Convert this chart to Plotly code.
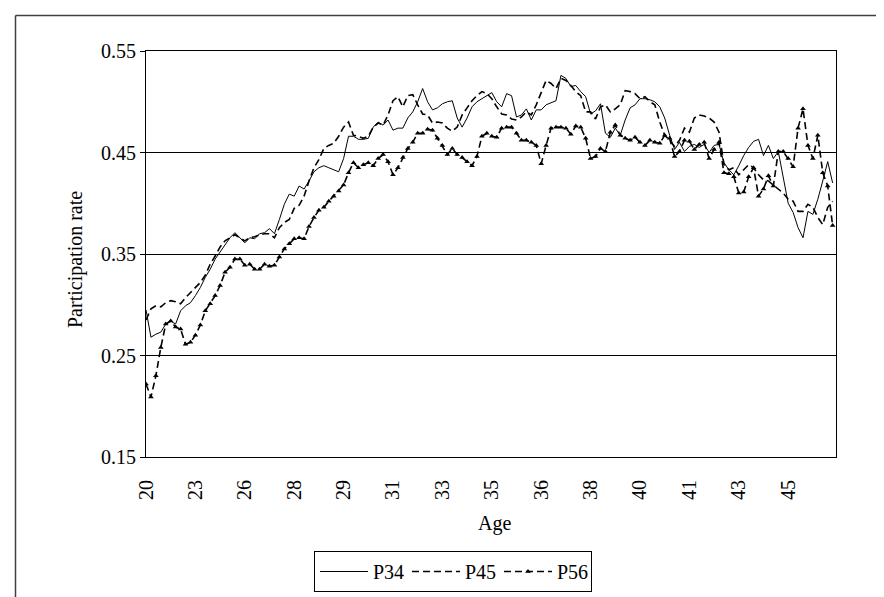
import plotly.graph_objects as go

age_labels = ["20", "23", "26", "28", "29", "31", "33", "35", "36", "38", "40", "41", "43", "45"]

p34 = [0.295, 0.268, 0.271, 0.273, 0.281, 0.284, 0.281, 0.294, 0.299, 0.302,
       0.309, 0.317, 0.327, 0.335, 0.345, 0.352, 0.360, 0.366, 0.371, 0.366,
       0.361, 0.366, 0.365, 0.370, 0.371, 0.375, 0.370, 0.384, 0.399, 0.409,
       0.407, 0.417, 0.414, 0.422, 0.431, 0.435, 0.437, 0.435, 0.433, 0.431,
       0.444, 0.466, 0.466, 0.463, 0.463, 0.464, 0.475, 0.480, 0.477, 0.482,
       0.472, 0.474, 0.474, 0.484, 0.490, 0.500, 0.513, 0.500, 0.492, 0.494,
       0.498, 0.500, 0.501, 0.484, 0.475, 0.484, 0.495, 0.500, 0.503, 0.506,
       0.509, 0.500, 0.495, 0.508, 0.506, 0.485, 0.487, 0.493, 0.482, 0.492,
       0.492, 0.497, 0.499, 0.501, 0.526, 0.523, 0.515, 0.516, 0.510, 0.505,
       0.488, 0.491, 0.498, 0.469, 0.465, 0.474, 0.467, 0.482, 0.494, 0.497,
       0.503, 0.503, 0.502, 0.500, 0.495, 0.484, 0.467, 0.453, 0.460, 0.451,
       0.456, 0.458, 0.455, 0.458, 0.450, 0.457, 0.458, 0.440, 0.433, 0.428,
       0.437, 0.447, 0.455, 0.461, 0.463, 0.447, 0.457, 0.444, 0.451, 0.425,
       0.400, 0.391, 0.376, 0.366, 0.392, 0.389, 0.404, 0.422, 0.441, 0.420]

p45 = [0.285, 0.296, 0.299, 0.298, 0.302, 0.304, 0.303, 0.301, 0.307, 0.312,
       0.316, 0.322, 0.329, 0.340, 0.348, 0.357, 0.363, 0.366, 0.369, 0.366,
       0.363, 0.366, 0.367, 0.369, 0.370, 0.370, 0.366, 0.376, 0.381, 0.384,
       0.395, 0.398, 0.407, 0.422, 0.435, 0.443, 0.454, 0.457, 0.459, 0.466,
       0.475, 0.480, 0.467, 0.466, 0.464, 0.466, 0.475, 0.479, 0.477, 0.487,
       0.501, 0.505, 0.495, 0.506, 0.507, 0.497, 0.488, 0.487, 0.479, 0.480,
       0.479, 0.474, 0.471, 0.475, 0.487, 0.494, 0.501, 0.506, 0.510, 0.508,
       0.503, 0.495, 0.488, 0.487, 0.483, 0.482, 0.485, 0.490, 0.487, 0.497,
       0.510, 0.521, 0.518, 0.513, 0.523, 0.521, 0.516, 0.510, 0.506, 0.490,
       0.490, 0.483, 0.495, 0.497, 0.490, 0.493, 0.497, 0.511, 0.510, 0.508,
       0.503, 0.505, 0.500, 0.497, 0.480, 0.467, 0.462, 0.456, 0.462, 0.474,
       0.470, 0.484, 0.487, 0.486, 0.484, 0.480, 0.470, 0.438, 0.433, 0.435,
       0.428, 0.433, 0.438, 0.435, 0.428, 0.423, 0.422, 0.418, 0.414, 0.410,
       0.404, 0.402, 0.392, 0.392, 0.399, 0.396, 0.386, 0.379, 0.396, 0.402]

p56 = [0.222, 0.209, 0.230, 0.258, 0.281, 0.284, 0.278, 0.276, 0.261, 0.263,
       0.270, 0.280, 0.294, 0.301, 0.309, 0.319, 0.332, 0.337, 0.345, 0.345,
       0.339, 0.340, 0.335, 0.335, 0.340, 0.338, 0.339, 0.347, 0.355, 0.360,
       0.365, 0.366, 0.365, 0.377, 0.386, 0.393, 0.396, 0.402, 0.407, 0.412,
       0.418, 0.430, 0.440, 0.435, 0.438, 0.440, 0.437, 0.444, 0.448, 0.441,
       0.428, 0.435, 0.445, 0.454, 0.460, 0.469, 0.469, 0.473, 0.472, 0.464,
       0.457, 0.448, 0.454, 0.448, 0.445, 0.441, 0.437, 0.446, 0.466, 0.469,
       0.466, 0.465, 0.474, 0.475, 0.475, 0.469, 0.462, 0.462, 0.460, 0.457,
       0.439, 0.457, 0.474, 0.475, 0.475, 0.474, 0.468, 0.476, 0.475, 0.464,
       0.444, 0.446, 0.454, 0.451, 0.470, 0.477, 0.467, 0.464, 0.462, 0.465,
       0.460, 0.457, 0.462, 0.460, 0.459, 0.467, 0.464, 0.446, 0.451, 0.462,
       0.461, 0.453, 0.458, 0.460, 0.444, 0.453, 0.460, 0.430, 0.429, 0.426,
       0.410, 0.411, 0.426, 0.435, 0.407, 0.414, 0.427, 0.417, 0.451, 0.451,
       0.444, 0.436, 0.474, 0.493, 0.457, 0.444, 0.467, 0.430, 0.417, 0.378]

y_ticks = [0.15, 0.25, 0.35, 0.45, 0.55]

idx = list(range(len(p34)))
tick_pos = list(range(0, len(p34), 10))[:len(age_labels)]

FONT = "Liberation Serif"
fig = go.Figure()
fig.add_trace(go.Scatter(x=idx, y=p34, mode="lines", name="P34",
                         line=dict(color="black", width=1)))
fig.add_trace(go.Scatter(x=idx, y=p45, mode="lines", name="P45",
                         line=dict(color="black", width=1.6, dash="7px,4px")))
fig.add_trace(go.Scatter(x=idx, y=p56, mode="lines+markers", name="P56",
                         line=dict(color="black", width=1.6, dash="7px,4px"),
                         marker=dict(symbol="triangle-up", size=5, color="black")))

W, H = 884, 597
L, R, T, B = 138, 56, 43, 148
pw, ph = W - L - R, H - T - B

def px(x):
    return (x - L) / pw

def py(y):
    return (H - B - y) / ph

fig.update_layout(
    width=W, height=H,
    margin=dict(l=L, r=R, t=T, b=B),
    paper_bgcolor="white", plot_bgcolor="white",
    font=dict(family=FONT, size=20, color="black"),
    showlegend=True,
    legend=dict(orientation="h", x=px(306), xanchor="left", y=py(543), yanchor="top",
                bordercolor="black", borderwidth=1, font=dict(family=FONT, size=20, color="black"),
                itemwidth=48, entrywidth=29, bgcolor="white"),
    xaxis=dict(range=[0, 139.68], tickmode="array", tickvals=tick_pos, ticktext=age_labels,
               tickangle=-90, showgrid=False, zeroline=False, showline=True, linecolor="black",
               linewidth=1, mirror=True, ticks="", ticklabelstandoff=14,
               tickfont=dict(family=FONT, size=20, color="black")),
    yaxis=dict(range=[0.15, 0.55], tickmode="array", tickvals=y_ticks, tickformat=".2f",
               showgrid=True, gridcolor="black", gridwidth=1, zeroline=False, showline=True,
               linecolor="black", linewidth=1, mirror=True, ticks="outside", ticklen=5,
               tickcolor="black", tickfont=dict(family=FONT, size=20, color="black")),
    annotations=[
        dict(text="Participation rate", xref="paper", yref="paper", x=px(67), y=py(252),
             xanchor="center", yanchor="middle", textangle=-90, showarrow=False,
             font=dict(family=FONT, size=20, color="black")),
        dict(text="Age", xref="paper", yref="paper", x=px(486), y=py(515),
             xanchor="center", yanchor="middle", showarrow=False,
             font=dict(family=FONT, size=20, color="black")),
    ],
    shapes=[
        dict(type="line", xref="paper", yref="paper", x0=px(7.5), y0=py(7.5), x1=px(900), y1=py(7.5),
             line=dict(color="#404040", width=1.5)),
        dict(type="line", xref="paper", yref="paper", x0=px(7.5), y0=py(7.5), x1=px(7.5), y1=py(620),
             line=dict(color="#404040", width=1.5)),
    ],
)

fig.write_html("out.html")
